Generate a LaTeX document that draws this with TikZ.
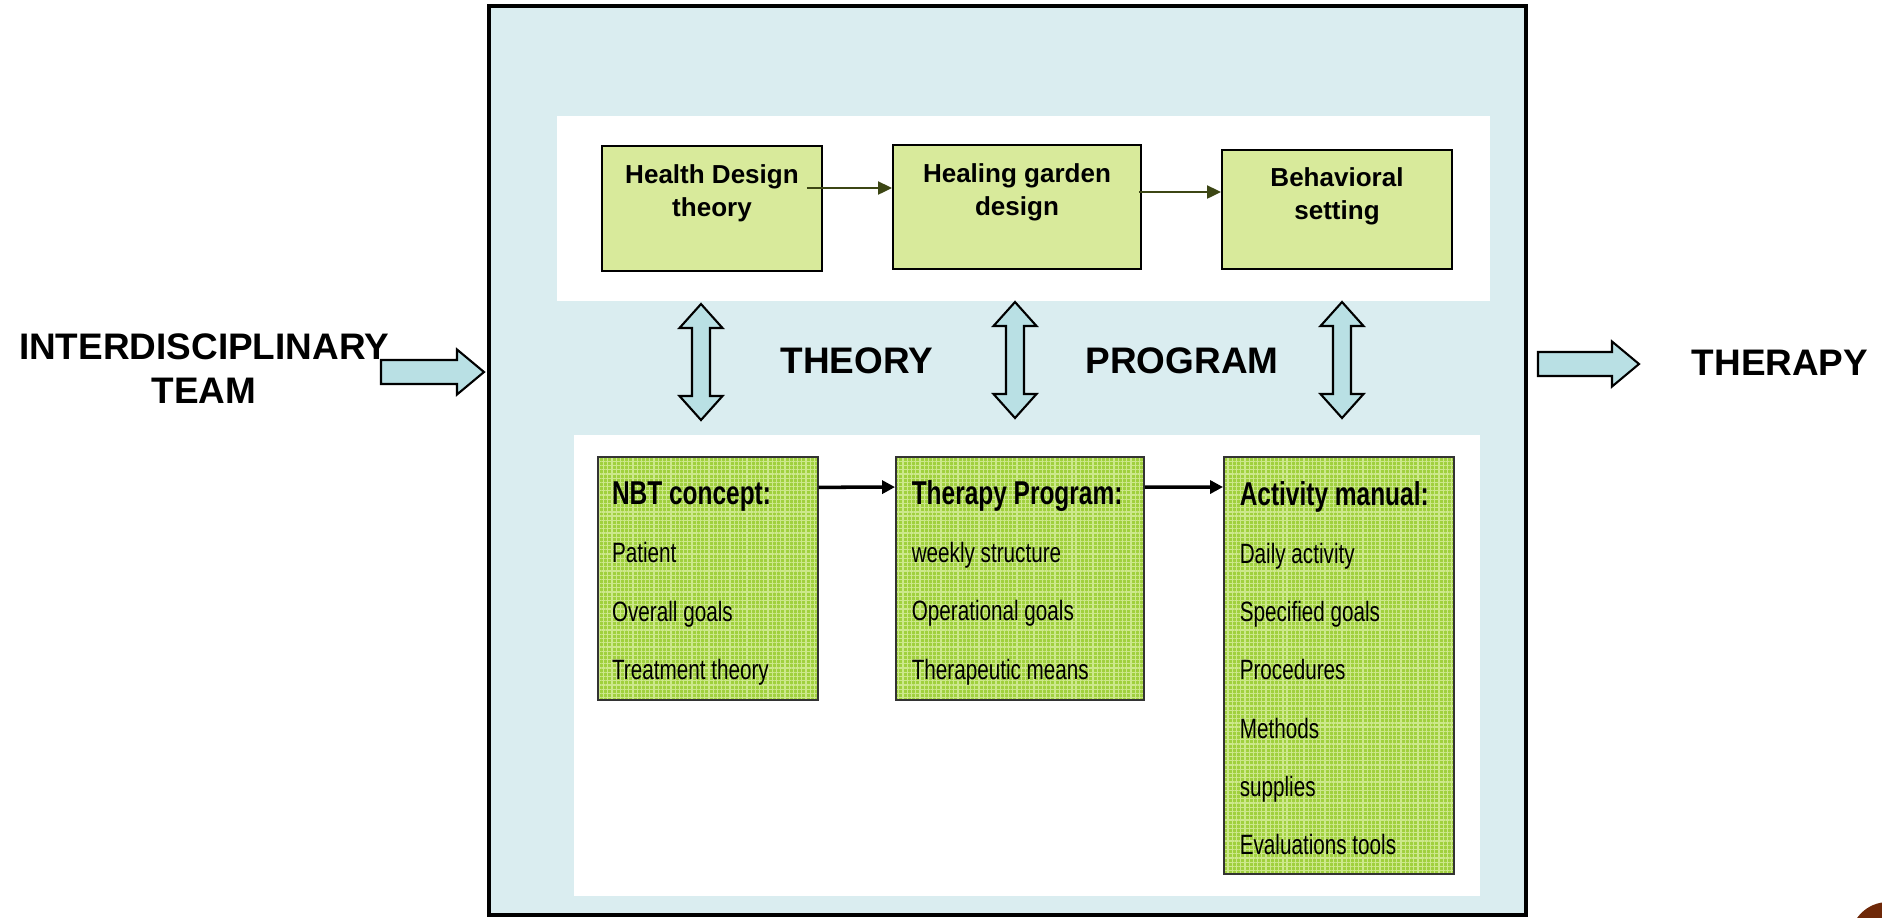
\documentclass[tikz,border=0pt]{standalone}
\usepackage{fontspec}
\setmainfont{Liberation Sans}
\newfontfamily\narrowfont[FakeStretch=0.74]{Liberation Sans}
\usetikzlibrary{calc}
\usetikzlibrary{arrows.meta}
\usetikzlibrary{patterns.meta}
\definecolor{frameblue}{RGB}{218,237,240}
\definecolor{arrowblue}{RGB}{185,224,228}
\definecolor{topgreen}{RGB}{216,234,155}
\definecolor{lowgreen}{RGB}{160,208,62}
\definecolor{gridgreen}{RGB}{205,232,140}
\definecolor{arrowline}{RGB}{60,70,20}
\definecolor{spotbrown}{RGB}{110,40,8}

\begin{document}
\begin{tikzpicture}[x=0.01cm,y=-0.01cm,
    topbox/.style={draw, line width=0.5pt, fill=topgreen, inner sep=0pt},
    lowbox/.style={draw=black!80, line width=0.5pt, inner sep=0pt,
      preaction={fill=lowgreen},
      pattern={Hatch[angle=0,distance=1.2pt,line width=0.35pt]}, pattern color=gridgreen},
    toptext/.style={font=\bfseries\fontsize{7.4}{9.36}\selectfont, align=center, inner sep=0pt},
    lowtext/.style={font=\narrowfont\fontsize{7.95}{16.56}\selectfont, align=left, inner sep=0pt},
    biglabel/.style={font=\bfseries\fontsize{10.5}{12.5}\selectfont, inner sep=0pt},
    blockarrow/.style={draw, line width=0.6pt, fill=arrowblue, line join=miter},
    thinarrow/.style={draw=arrowline, line width=0.6pt, -{Triangle[length=0.14cm,width=0.13cm]}},
    boldarrow/.style={draw, line width=1pt, -{Triangle[length=0.13cm,width=0.13cm]}}]
    \useasboundingbox (0,0) rectangle (1882,917);
    % frame and the two panels
    \draw[line width=1.15pt, fill=frameblue] (489,6) rectangle (1526,915);
    \fill[white] (557,116) rectangle (1490,301);
    \fill[white] (574,435) rectangle (1480,896);
    % theory row
    \node[topbox, minimum width=2.2cm, minimum height=1.25cm] (hdt) at (712,208.5) {};
    \node[topbox, minimum width=2.48cm, minimum height=1.24cm] (hgd) at (1017,207) {};
    \node[topbox, minimum width=2.3cm, minimum height=1.19cm] (bs) at (1337,209.5) {};
    \node[toptext, anchor=base] (hdt-text) at ($(hdt.north)+(0,71)$) {Health Design\\theory};
    \node[toptext, anchor=base] (hgd-text) at ($(hgd.north)+(0,71)$) {Healing garden\\design};
    \node[toptext, anchor=base] (bs-text) at ($(bs.north)+(0,70)$) {Behavioral\\setting};
    \draw[thinarrow] ($(hdt.east)+(-16,-20.5)$) -- ($(hgd.west)+(0,-19)$);
    \draw[thinarrow] ($(hgd.east)+(-3,-15)$) -- ($(bs.west)+(0,-17.5)$);
    % program row
    \node[lowbox, minimum width=2.2cm, minimum height=2.43cm] (nbt) at (708,578.5) {};
    \node[lowbox, minimum width=2.48cm, minimum height=2.43cm] (tp) at (1020,578.5) {};
    \node[lowbox, minimum width=2.3cm, minimum height=4.17cm] (am) at (1339,665.5) {};
    \node[lowtext, anchor=base west] (nbt-text) at ($(nbt.north west)+(14,223)$)
      {{\bfseries\fontsize{9.4}{16.56}\selectfont NBT concept:}\\Patient\\Overall goals\\Treatment theory};
    \node[lowtext, anchor=base west] (tp-text) at ($(tp.north west)+(16,223)$)
      {{\bfseries\fontsize{9.4}{16.56}\selectfont Therapy Program:}\\weekly structure\\Operational goals\\Therapeutic means};
    \node[lowtext, anchor=base west] (am-text) at ($(am.north west)+(16,398.5)$)
      {{\bfseries\fontsize{9.4}{16.56}\selectfont Activity manual:}\\Daily activity\\Specified goals\\Procedures\\Methods\\supplies\\Evaluations tools};
    \draw[boldarrow] ($(nbt.north east)+(0,31)$) -- ($(tp.north west)+(0,31)$);
    \draw[boldarrow] ($(tp.north east)+(0,31)$) -- ($(am.north west)+(0,31)$);
    % double arrows between the rows
    \draw[blockarrow] (701,304) -- ++(21.5,24) -- ++(-12.5,0) -- ++(0,68) -- ++(12.5,0) -- ++(-21.5,24)
      -- ++(-21.5,-24) -- ++(12.5,0) -- ++(0,-68) -- ++(-12.5,0) -- cycle;
    \draw[blockarrow] (1015,302) -- ++(21.5,24) -- ++(-12.5,0) -- ++(0,68) -- ++(12.5,0) -- ++(-21.5,24)
      -- ++(-21.5,-24) -- ++(12.5,0) -- ++(0,-68) -- ++(-12.5,0) -- cycle;
    \draw[blockarrow] (1342,302) -- ++(21.5,24) -- ++(-12.5,0) -- ++(0,68) -- ++(12.5,0) -- ++(-21.5,24)
      -- ++(-21.5,-24) -- ++(12.5,0) -- ++(0,-68) -- ++(-12.5,0) -- cycle;
    \node[biglabel, anchor=base] (theory) at (857,373) {THEORY};
    \node[biglabel, anchor=base] (program) at (1182,373) {PROGRAM};
    % in and out
    \draw[blockarrow] (381,360) -- (457,360) -- (457,349.5) -- (484,372) -- (457,394.5) -- (457,384) -- (381,384) -- cycle;
    \draw[blockarrow] (1538,352) -- (1612,352) -- (1612,341.5) -- (1639,364) -- (1612,386.5) -- (1612,376) -- (1538,376) -- cycle;
    \node[biglabel, align=center, anchor=base] (team) at (204,403) {INTERDISCIPLINARY\\TEAM};
    \node[biglabel, anchor=base] (therapy) at (1780,375) {THERAPY};
    \fill[spotbrown] (1888,940) circle (38);
  \end{tikzpicture}
\end{document}
